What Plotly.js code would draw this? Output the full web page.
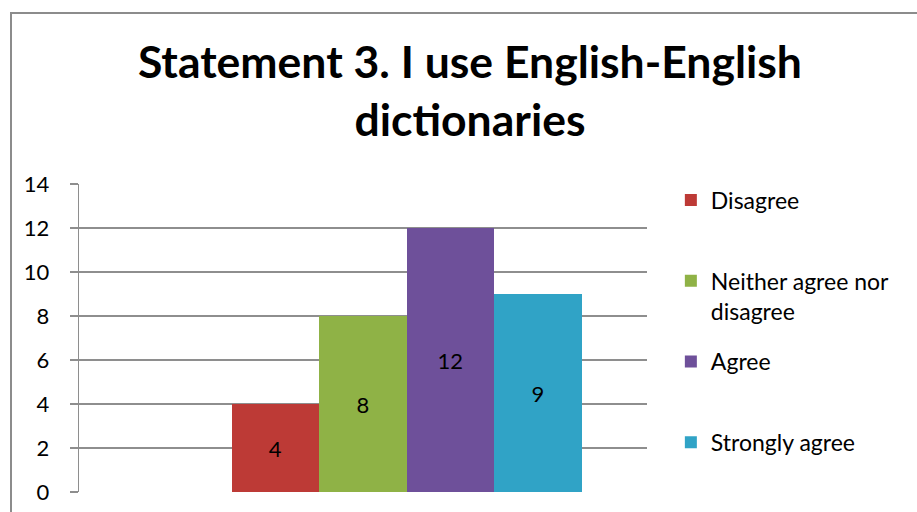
<!DOCTYPE html>
<html>
<head>
<meta charset="utf-8">
<script src="https://cdn.plot.ly/plotly-3.0.1.min.js"></script>
<style>
  html, body { margin: 0; padding: 0; background: #ffffff; overflow: hidden; }
  #wrap { position: relative; width: 917px; height: 512px; }
  #frame { position: absolute; left: 10px; top: 12px; width: 940px; height: 540px;
           border: 2px solid #8c8c8c; box-sizing: border-box; pointer-events: none; z-index: 5; }
  #chart { position: absolute; left: 0; top: 0; width: 917px; height: 512px; }
</style>
</head>
<body>
<div id="wrap">
  <div id="chart"></div>
  <div id="frame"></div>
</div>
<script>
// ---- data ----
const category = ['Statement 3'];
const seriesNames = ['Disagree', 'Neither agree nor<br>disagree', 'Agree', 'Strongly agree'];
const seriesValues = [4, 8, 12, 9];
const seriesColors = ['#bd3a36', '#8fb246', '#6e509a', '#30a3c6'];
const yTicks = [0, 2, 4, 6, 8, 10, 12, 14];

const FONT = 'Lato, "Open Sans", sans-serif';
const GRID = '#8e8e8e';

const last = seriesNames.length - 1;
const traces = seriesNames.map((name, i) => ({
  type: 'bar',
  name: (name.indexOf('<br>') >= 0 || i === last) ? name : name + '<br>&nbsp;',
  legendgroup: 'g' + i,
  x: category,
  y: [seriesValues[i]],
  text: [String(seriesValues[i])],
  textposition: 'inside',
  insidetextanchor: 'middle',
  textangle: 0,
  textfont: { family: FONT, size: 22, color: '#000000' },
  marker: { color: seriesColors[i], line: { width: 0 } },
  hoverinfo: 'none'
}));

const layout = {
  width: 917,
  height: 512,
  margin: { l: 79, r: 270, t: 184, b: 20 },
  paper_bgcolor: '#ffffff',
  plot_bgcolor: '#ffffff',
  font: { family: FONT, color: '#000000' },
  title: {
    text: '<b>Statement 3. I use English-English<br>dictionaries</b>',
    font: { family: FONT, size: 44.5, color: '#000000' },
    xref: 'container', x: 0.5125, xanchor: 'center',
    yref: 'container', y: 0.848, yanchor: 'top'
  },
  barmode: 'group',
  bargap: 0,
  bargroupgap: 0,
  showlegend: true,
  legend: {
    x: 1.042, xanchor: 'left',
    y: 1.018, yanchor: 'top',
    maxheight: 1,
    font: { family: FONT, size: 23, color: '#000000' },
    traceorder: 'grouped',
    tracegroupgap: 18,
    valign: 'top',
    bgcolor: 'rgba(0,0,0,0)'
  },
  xaxis: {
    type: 'category',
    range: [-0.936, 0.687],
    showticklabels: false,
    showgrid: false,
    zeroline: false,
    showline: false,
    ticks: ''
  },
  yaxis: {
    range: [0, 14],
    tickvals: yTicks,
    ticktext: yTicks.map(String),
    showgrid: true,
    gridcolor: GRID,
    gridwidth: 1.3,
    zeroline: false,
    showline: true,
    linecolor: GRID,
    linewidth: 1.3,
    ticks: 'outside',
    ticklen: 8,
    tickcolor: GRID,
    tickwidth: 1.3,
    ticklabelstandoff: 16,
    tickfont: { family: FONT, size: 22, color: '#000000' },
    fixedrange: true
  }
};

Plotly.newPlot('chart', traces, layout, { displayModeBar: false, staticPlot: true });
</script>
</body>
</html>
